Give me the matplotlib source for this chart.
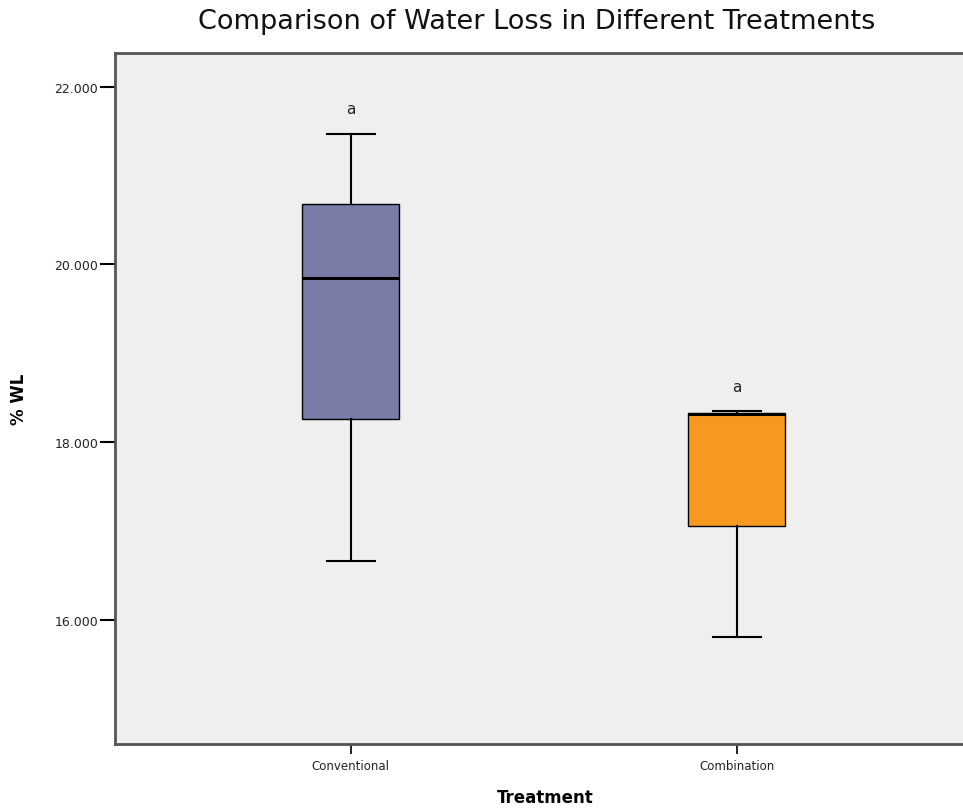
import matplotlib.pyplot as plt

categorias = ['Conventional', 'Combination']
minimos = [16.66, 15.81]
q1 = [18.26, 17.06]
medianas = [19.85, 18.32]
q3 = [20.68, 18.33]
maximos = [21.47, 18.35]
letras = ['a', 'a']
cores = ['#7b7ba8', '#f7991f']

fig = plt.figure(figsize=(9.63, 8.12), dpi=100)
# eixo vai um pouco alem da borda direita, como no original
ax = fig.add_axes([115 / 963, 1 - 745 / 812, 860 / 963, 691 / 812])
ax.set_facecolor('#efefef')

stats = []
for i in range(len(categorias)):
    stats.append({'label': categorias[i], 'whislo': minimos[i], 'q1': q1[i],
                  'med': medianas[i], 'q3': q3[i], 'whishi': maximos[i]})

bp = ax.bxp(stats, positions=range(len(categorias)), widths=0.252,
            showfliers=False, patch_artist=True,
            boxprops=dict(edgecolor='black', linewidth=1.0),
            medianprops=dict(color='black', linewidth=2.2),
            whiskerprops=dict(color='black', linewidth=1.5),
            capprops=dict(color='black', linewidth=1.5), capwidths=0.126)
for patch, c in zip(bp['boxes'], cores):
    patch.set_facecolor(c)

for i in range(len(categorias)):
    ax.text(i, maximos[i] + 0.28, letras[i], ha='center', va='center',
            fontsize=11, color='#222222')

ax.set_xlim(-0.611, 1.617)
ax.set_ylim(14.6, 22.38)
ax.set_yticks([16, 18, 20, 22])
ax.set_yticklabels(['16.000', '18.000', '20.000', '22.000'])
ax.tick_params(axis='y', direction='out', length=11, width=1.5, labelsize=9,
               pad=1, labelcolor='#222222')
ax.tick_params(axis='x', direction='out', length=7, width=1.2, labelsize=8.5,
               pad=4, labelcolor='#222222')

for s in ['left', 'bottom', 'top']:
    ax.spines[s].set_color('#555555')
    ax.spines[s].set_linewidth(2)
ax.spines['right'].set_visible(False)

ax.set_xlabel('Treatment', fontsize=12, fontweight='bold', labelpad=11)
ax.set_ylabel('% WL', fontsize=12, fontweight='bold', labelpad=19)
fig.text(537 / 963, 1 - 22 / 812, 'Comparison of Water Loss in Different Treatments',
         ha='center', va='center', fontsize=19.5, color='#111111')

fig.savefig('out.png', dpi=100)
